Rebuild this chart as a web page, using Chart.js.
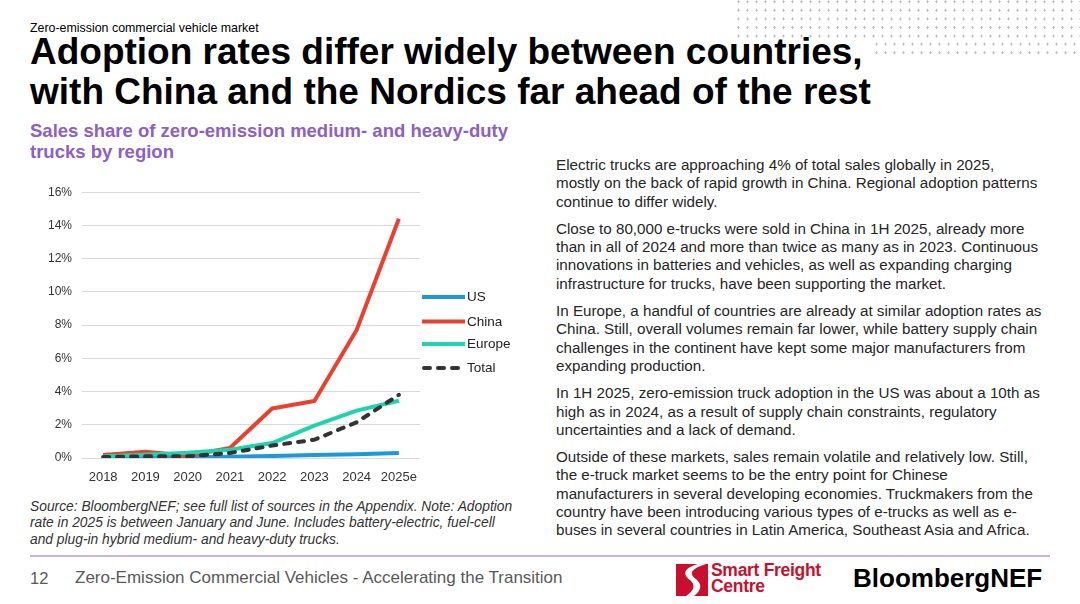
<!DOCTYPE html>
<html lang="en">
  <head>
    <meta charset="UTF-8" />
    <title>Zero-emission commercial vehicle market</title>
    <style>
      * {
        box-sizing: border-box;
        margin: 0;
        padding: 0;
      }

      body {
        width: 1080px;
        height: 604px;
        overflow: hidden;
        background: #fff;
        font-family: "Liberation Sans", Arial, sans-serif;
        color: #000;
        position: relative;
      }

      .dots-top {
        position: absolute;
        left: 734px;
        top: 0;
        width: 346px;
        height: 40px;
        background-image: radial-gradient(circle, #b5b5b5 0.9px, transparent 1.3px);
        background-size: 9px 8.6px;
        background-position: 0 -2.6px;
      }

      .dots-low {
        position: absolute;
        left: 870px;
        top: 40px;
        width: 210px;
        height: 17px;
        background-image: radial-gradient(circle, #b5b5b5 0.9px, transparent 1.3px);
        background-size: 9px 8.6px;
        background-position: 2px -0.2px;
      }

      .kicker {
        position: absolute;
        left: 30px;
        top: 21px;
        font-size: 12.4px;
        line-height: 14px;
      }

      h1 {
        position: absolute;
        left: 30px;
        top: 32px;
        font-size: 37px;
        line-height: 40px;
        font-weight: bold;
        white-space: nowrap;
      }

      .subtitle {
        position: absolute;
        left: 30px;
        top: 120px;
        font-size: 18.5px;
        line-height: 21px;
        font-weight: bold;
        color: #8c60c4;
      }

      .chart-box {
        position: absolute;
        left: 40px;
        top: 175px;
        width: 490px;
        height: 315px;
      }

      .notes {
        position: absolute;
        left: 30px;
        top: 499px;
        font-size: 13.8px;
        line-height: 16.3px;
        font-style: italic;
        color: #333;
        white-space: nowrap;
      }

      .body-text {
        position: absolute;
        left: 556px;
        top: 156px;
        font-size: 15.2px;
        line-height: 18.3px;
        color: #262626;
      }

      .body-text p {
        margin-bottom: 9px;
        white-space: nowrap;
      }

      .rule {
        position: absolute;
        left: 30px;
        top: 555px;
        width: 1020px;
        height: 1.5px;
        background: #c9b6e2;
      }

      .page-no {
        position: absolute;
        left: 30px;
        top: 569px;
        font-size: 16.5px;
        line-height: 18px;
        color: #595959;
      }

      .footer-title {
        position: absolute;
        left: 75px;
        top: 569px;
        font-size: 17px;
        line-height: 18px;
        color: #595959;
      }

      .sfc {
        position: absolute;
        left: 676px;
        top: 563px;
        width: 160px;
        height: 34px;
      }

      .sfc svg {
        position: absolute;
        left: 0;
        top: 1px;
      }

      .sfc span {
        position: absolute;
        left: 35px;
        top: -1px;
        font-size: 17.5px;
        line-height: 16px;
        font-weight: bold;
        color: #c8102e;
        letter-spacing: -0.3px;
      }

      .bnef {
        position: absolute;
        left: 853px;
        top: 563px;
        font-size: 26px;
        line-height: 30px;
        font-weight: bold;
        color: #000;
      }
    </style>
    <script src="https://cdn.jsdelivr.net/npm/chart.js"></script>
  </head>
  <body>
    <div class="dots-top"></div>
    <div class="dots-low"></div>

    <div class="kicker">Zero-emission commercial vehicle market</div>
    <h1>Adoption rates differ widely between countries,<br />with China and the Nordics far ahead of the rest</h1>
    <div class="subtitle">Sales share of zero-emission medium- and heavy-duty<br />trucks by region</div>

    <div class="chart-box"><canvas id="shareChart"></canvas></div>

    <div class="notes">
      Source: BloombergNEF; see full list of sources in the Appendix. Note: Adoption<br />
      rate in 2025 is between January and June. Includes battery-electric, fuel-cell<br />
      and plug-in hybrid medium- and heavy-duty trucks.
    </div>

    <div class="body-text">
      <p>Electric trucks are approaching 4% of total sales globally in 2025,<br />mostly on the back of rapid growth in China. Regional adoption patterns<br />continue to differ widely.</p>
      <p>Close to 80,000 e-trucks were sold in China in 1H 2025, already more<br />than in all of 2024 and more than twice as many as in 2023. Continuous<br />innovations in batteries and vehicles, as well as expanding charging<br />infrastructure for trucks, have been supporting the market.</p>
      <p>In Europe, a handful of countries are already at similar adoption rates as<br />China. Still, overall volumes remain far lower, while battery supply chain<br />challenges in the continent have kept some major manufacturers from<br />expanding production.</p>
      <p>In 1H 2025, zero-emission truck adoption in the US was about a 10th as<br />high as in 2024, as a result of supply chain constraints, regulatory<br />uncertainties and a lack of demand.</p>
      <p>Outside of these markets, sales remain volatile and relatively low. Still,<br />the e-truck market seems to be the entry point for Chinese<br />manufacturers in several developing economies. Truckmakers from the<br />country have been introducing various types of e-trucks as well as e-<br />buses in several countries in Latin America, Southeast Asia and Africa.</p>
    </div>

    <div class="rule"></div>
    <div class="page-no">12</div>
    <div class="footer-title">Zero-Emission Commercial Vehicles - Accelerating the Transition</div>

    <div class="sfc">
      <svg width="32" height="32" viewBox="0 0 32 32">
        <rect x="0" y="0" width="32" height="32" fill="#c8102e" />
        <path d="M22 0 C8 4 6 10 14 16 C20 21 18 27 10 32 L18 32 C26 26 26 20 20 15 C13 10 14 5 30 0 Z" fill="#fff" />
      </svg>
      <span>Smart Freight<br />Centre</span>
    </div>
    <div class="bnef">BloombergNEF</div>

    <script>
      // values (share of sales, %)
      const years = ["2018", "2019", "2020", "2021", "2022", "2023", "2024", "2025e"];
      const usShare = [0.02, 0.04, 0.05, 0.08, 0.12, 0.18, 0.22, 0.3];
      const chinaShare = [0.18, 0.37, 0.14, 0.6, 2.98, 3.43, 7.7, 14.4];
      const europeShare = [0.1, 0.2, 0.32, 0.5, 0.9, 1.95, 2.85, 3.45];
      const totalShare = [0.06, 0.1, 0.1, 0.3, 0.75, 1.1, 2.15, 3.8];
      const yTicks = [0, 2, 4, 6, 8, 10, 12, 14, 16];

      const seriesNames = ["US", "China", "Europe", "Total"];
      const seriesColors = ["#1a9ad9", "#e8412f", "#1fd3ae", "#333333"];

      // legend drawn to the right of the plot, like the slide
      const sideLegend = {
        id: "sideLegend",
        afterDraw(chart) {
          const ctx = chart.ctx;
          const x0 = chart.chartArea.right + 2;
          const rows = [122, 146.5, 169, 193];
          ctx.save();
          seriesNames.forEach((name, i) => {
            const y = rows[i];
            ctx.beginPath();
            ctx.strokeStyle = seriesColors[i];
            ctx.lineWidth = 4;
            if (name === "Total") {
              ctx.lineCap = "round";
              ctx.setLineDash([6, 8]);
              ctx.moveTo(x0 + 2, y);
            } else {
              ctx.lineCap = "butt";
              ctx.setLineDash([]);
              ctx.moveTo(x0, y);
            }
            ctx.lineTo(x0 + 43, y);
            ctx.stroke();
            ctx.setLineDash([]);
            ctx.fillStyle = "#222";
            ctx.font = "13.5px 'Liberation Sans', Arial, sans-serif";
            ctx.textBaseline = "middle";
            ctx.fillText(name, x0 + 45, y + 0.5);
          });
          ctx.restore();
        },
      };

      function makeLine(label, values, color, order, dashed) {
        return {
          label: label,
          data: values,
          borderColor: color,
          backgroundColor: color,
          borderWidth: 4,
          borderDash: dashed ? [6, 8] : [],
          borderCapStyle: dashed ? "round" : "butt",
          borderJoinStyle: "round",
          pointRadius: 0,
          tension: 0,
          fill: false,
          order: order,
        };
      }

      new Chart(document.getElementById("shareChart"), {
        type: "line",
        data: {
          labels: years,
          datasets: [
            makeLine("US", usShare, seriesColors[0], 3, false),
            makeLine("China", chinaShare, seriesColors[1], 2, false),
            makeLine("Europe", europeShare, seriesColors[2], 1, false),
            makeLine("Total", totalShare, seriesColors[3], 0, true),
          ],
        },
        options: {
          responsive: true,
          maintainAspectRatio: false,
          animation: false,
          layout: {
            padding: { top: 7, right: 110, left: 0, bottom: 0 },
          },
          plugins: {
            legend: { display: false },
            tooltip: { enabled: false },
          },
          scales: {
            x: {
              offset: true,
              grid: { display: false },
              border: { display: false },
              ticks: {
                color: "#333",
                padding: 4,
                maxRotation: 0,
                font: { family: "'Liberation Sans', Arial, sans-serif", size: 13 },
              },
              afterFit(scale) {
                scale.height = 32;
              },
            },
            y: {
              min: 0,
              max: 16,
              afterBuildTicks(scale) {
                scale.ticks = yTicks.map((v) => ({ value: v }));
              },
              grid: { color: "#d9d9d9", lineWidth: 1, drawTicks: false },
              border: { display: false },
              ticks: {
                color: "#333",
                padding: 10,
                font: { family: "'Liberation Sans', Arial, sans-serif", size: 12 },
                callback: (v) => v + "%",
              },
              afterFit(scale) {
                scale.width = 42;
              },
            },
          },
        },
        plugins: [sideLegend],
      });
    </script>
  </body>
</html>
